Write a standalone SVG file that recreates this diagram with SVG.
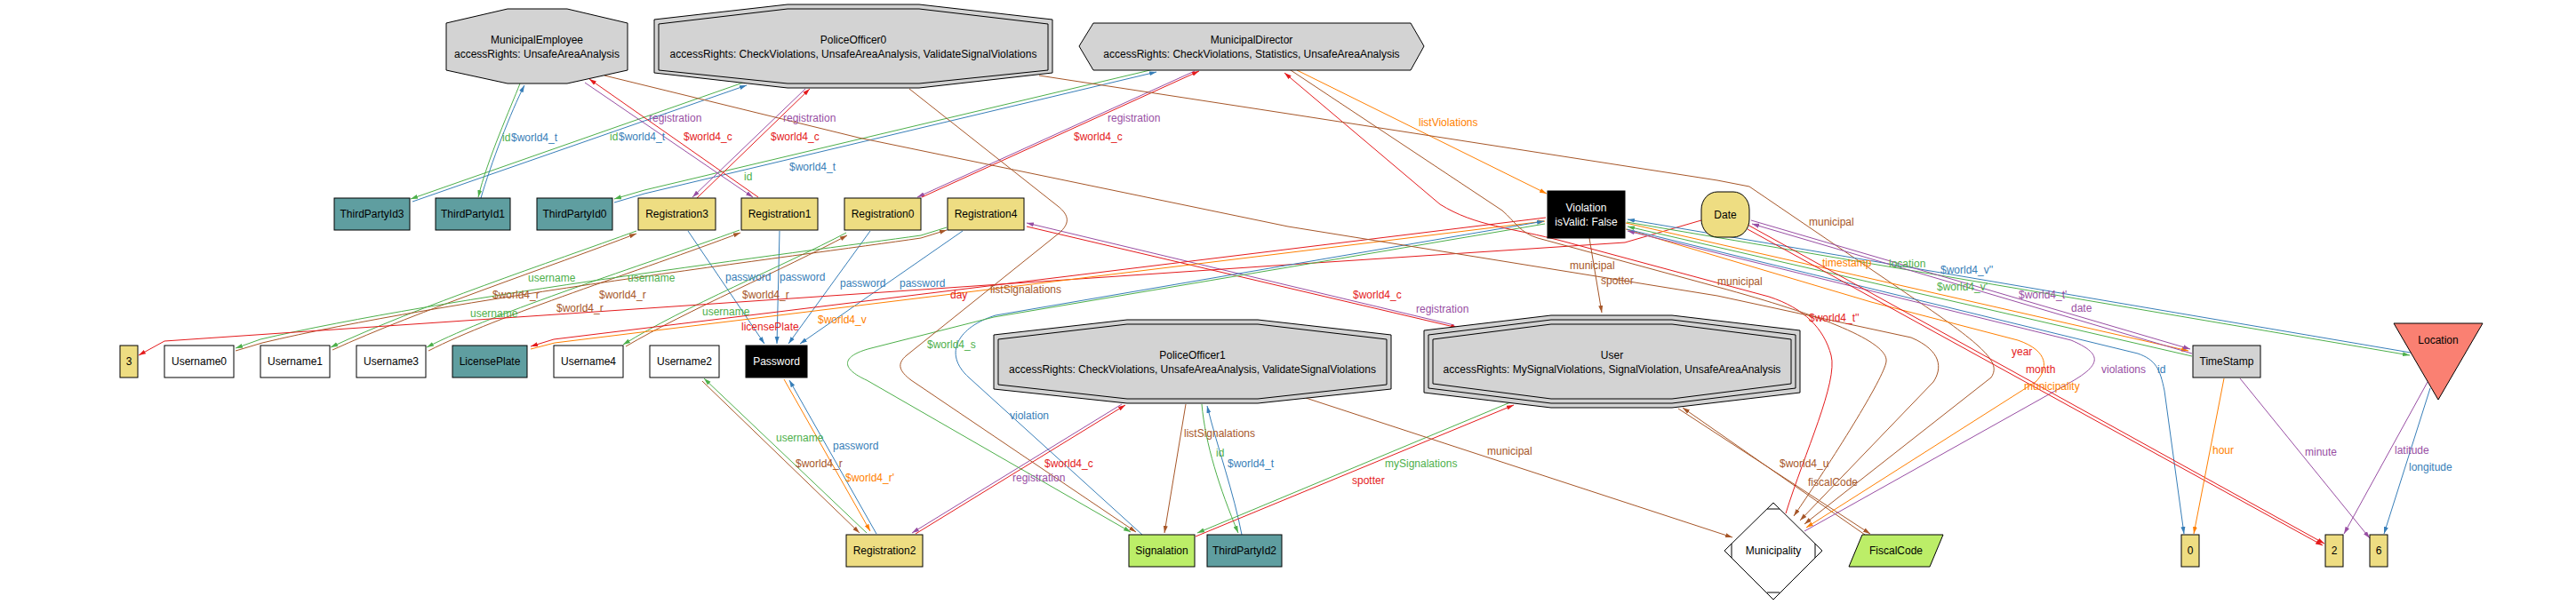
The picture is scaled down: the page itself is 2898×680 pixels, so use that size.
<svg xmlns="http://www.w3.org/2000/svg" width="2898" height="680" viewBox="0 0 2898 680">
<style>
text{font-family:"Liberation Sans",Arial,sans-serif;font-size:12px}
.n text{text-anchor:middle;fill:#000}
.n .w{fill:#fff}
.s{stroke:#000;stroke-width:1}
.tl{fill:#5F9EA0}.kh{fill:#EEDD82}.gr{fill:#D3D3D3}.lg{fill:#BCEE68}.wh{fill:#fff}.bk{fill:#000}.sa{fill:#FA8072}
.e path{fill:none;stroke-width:1}
.er{stroke:#E41A1C;marker-end:url(#mr)}
.eb{stroke:#377EB8;marker-end:url(#mb)}
.eg{stroke:#4DAF4A;marker-end:url(#mg)}
.ep{stroke:#984EA3;marker-end:url(#mp)}
.eo{stroke:#FF7F00;marker-end:url(#mo)}
.en{stroke:#A65628;marker-end:url(#mn)}
.tr{fill:#E41A1C}.tb{fill:#377EB8}.tg{fill:#4DAF4A}.tp{fill:#984EA3}.to{fill:#FF7F00}.tn{fill:#A65628}
</style>
<defs>
<marker id="mr" markerUnits="userSpaceOnUse" markerWidth="8" markerHeight="6" refX="8" refY="3" orient="auto"><path d="M0,0.5L8,3L0,5.5z" fill="#E41A1C"/></marker>
<marker id="mb" markerUnits="userSpaceOnUse" markerWidth="8" markerHeight="6" refX="8" refY="3" orient="auto"><path d="M0,0.5L8,3L0,5.5z" fill="#377EB8"/></marker>
<marker id="mg" markerUnits="userSpaceOnUse" markerWidth="8" markerHeight="6" refX="8" refY="3" orient="auto"><path d="M0,0.5L8,3L0,5.5z" fill="#4DAF4A"/></marker>
<marker id="mp" markerUnits="userSpaceOnUse" markerWidth="8" markerHeight="6" refX="8" refY="3" orient="auto"><path d="M0,0.5L8,3L0,5.5z" fill="#984EA3"/></marker>
<marker id="mo" markerUnits="userSpaceOnUse" markerWidth="8" markerHeight="6" refX="8" refY="3" orient="auto"><path d="M0,0.5L8,3L0,5.5z" fill="#FF7F00"/></marker>
<marker id="mn" markerUnits="userSpaceOnUse" markerWidth="8" markerHeight="6" refX="8" refY="3" orient="auto"><path d="M0,0.5L8,3L0,5.5z" fill="#A65628"/></marker>
</defs>
<rect width="2898" height="680" fill="#fff"/>

<g id="edges" class="e">
<path class="eg" d="M836,93L462,224"/>
<path class="eb" d="M464,227L840,96"/>
<path class="eg" d="M585,94C575,120 548,180 538,222"/>
<path class="eb" d="M541,223C552,185 575,125 590,96"/>
<path class="eg" d="M1298,78L725,214L691,224"/>
<path class="eb" d="M691,228L725,218L1301,81"/>
<path class="ep" d="M658,93L847,222"/>
<path class="er" d="M853,222L663,89"/>
<path class="ep" d="M906,100L779,222"/>
<path class="er" d="M784,223L911,100"/>
<path class="ep" d="M1344,80L1032,222"/>
<path class="er" d="M1037,222L1349,80"/>
<path class="ep" d="M1636,366L1155,251"/>
<path class="er" d="M1155,255L1640,369"/>
<path class="ep" d="M1262,455L1026,600"/>
<path class="er" d="M1030,601L1266,456"/>
<path class="eg" d="M975,600L792,426"/>
<path class="en" d="M790,429L967,600"/>
<path class="eb" d="M986,601L888,428"/>
<path class="eo" d="M882,427L979,598"/>
<path class="eb" d="M774,260L860,387"/>
<path class="eb" d="M877,260L874,387"/>
<path class="eb" d="M979,260L887,387"/>
<path class="eb" d="M1083,260L900,387"/>
<path class="eg" d="M716,260C620,295 470,345 372,391"/>
<path class="en" d="M374,394C470,350 620,300 716,263"/>
<path class="eg" d="M832,259C720,300 560,350 480,391"/>
<path class="en" d="M482,395C560,355 720,305 833,262"/>
<path class="eg" d="M952,262C880,300 770,345 701,388"/>
<path class="en" d="M704,390C772,350 882,303 953,265"/>
<path class="eg" d="M1065,256L1036,265C900,284 500,334 293,382L265,392"/>
<path class="en" d="M265,395L295,386C500,337 900,288 1036,268L1065,259"/>
<path class="er" d="M1914,248L1828,273L1449,298L185,384L156,400"/>
<path class="er" d="M1739,245L623,382L597,390"/>
<path class="eo" d="M597,393L624,386L1738,249"/>
<path class="eb" d="M1285,602L1090,425C1060,398 1078,368 1120,355L1737,249"/>
<path class="eg" d="M1738,252L1118,357L980,392C945,401 946,415 975,428L1272,599"/>
<path class="en" d="M1023,100L1190,232C1204,243 1203,252 1192,262L1020,400C1008,410 1012,418 1025,428L1278,599"/>
<path class="en" d="M1334,455L1310,600"/>
<path class="eg" d="M1352,455C1356,500 1372,550 1393,600"/>
<path class="eb" d="M1397,602C1388,555 1370,505 1358,457"/>
<path class="eg" d="M1699,453L1347,600"/>
<path class="er" d="M1345,604L1703,456"/>
<path class="en" d="M1469,448L1949,605"/>
<path class="en" d="M1888,460L2104,601"/>
<path class="en" d="M2098,602L1893,459"/>
<path class="en" d="M1788,268L1802,352"/>
<path class="eo" d="M1459,79L1740,218"/>
<path class="er" d="M2009,578C2030,510 2068,430 2060,400C2052,370 2030,347 1990,334L1760,272C1700,256 1660,255 1620,230L1445,82"/>
<path class="en" d="M1449,77L1690,237C1705,250 1710,262 1730,268L1932,323C2050,355 2125,385 2122,407C2120,425 2060,520 2018,581"/>
<path class="en" d="M680,85L966,155L1449,255L1932,333L2150,380C2185,395 2185,415 2175,430L2025,586"/>
<path class="en" d="M1169,85L1449,128L1932,203L1968,210L2159,340C2240,395 2250,410 2240,425L2030,590"/>
<path class="eo" d="M1829,258L2105,340L2270,383C2305,395 2305,415 2290,430L2032,594"/>
<path class="ep" d="M2030,598L2330,430C2365,410 2365,398 2330,383L1831,260"/>
<path class="eo" d="M1829,251L2462,395"/>
<path class="eg" d="M2466,401L1831,255"/>
<path class="eg" d="M1830,250L2711,400"/>
<path class="eb" d="M2712,397L1831,247"/>
<path class="ep" d="M2466,398L1971,252"/>
<path class="ep" d="M1970,248L2464,393"/>
<path class="eb" d="M1830,258L2405,398C2425,405 2430,415 2435,440L2457,601"/>
<path class="er" d="M1966,253L2615,612"/>
<path class="er" d="M1966,258L2613,614"/>
<path class="eo" d="M2502,426L2468,601"/>
<path class="ep" d="M2520,426L2666,606"/>
<path class="ep" d="M2731,430L2637,601"/>
<path class="eb" d="M2734,437L2682,601"/>
</g>

<g id="labels">
<text class="tg" x="686" y="158">id</text><text class="tb" x="696" y="158">$world4_t</text>
<text class="tg" x="565" y="159">id</text><text class="tb" x="575" y="159">$world4_t</text>
<text class="tp" x="730" y="137">registration</text><text class="tr" x="769" y="158">$world4_c</text>
<text class="tp" x="881" y="137">registration</text><text class="tr" x="867" y="158">$world4_c</text>
<text class="tg" x="837" y="203">id</text><text class="tb" x="888" y="192">$world4_t</text>
<text class="tp" x="1246" y="137">registration</text><text class="tr" x="1208" y="158">$world4_c</text>
<text class="to" x="1596" y="142">listViolations</text>
<text class="tg" x="594" y="317">username</text><text class="tn" x="554" y="336">$world4_r</text>
<text class="tg" x="706" y="317">username</text><text class="tn" x="674" y="336">$world4_r</text>
<text class="tb" x="816" y="316">password</text><text class="tb" x="877" y="316">password</text>
<text class="tb" x="945" y="323">password</text><text class="tb" x="1012" y="323">password</text>
<text class="tn" x="835" y="336">$world4_r</text>
<text class="tg" x="529" y="357">username</text><text class="tn" x="626" y="351">$world4_r</text>
<text class="tg" x="790" y="355">username</text>
<text class="tr" x="834" y="372">licensePlate</text><text class="to" x="920" y="364">$world4_v</text>
<text class="tr" x="1069" y="336">day</text>
<text class="tn" x="1114" y="330">listSignalations</text>
<text class="tg" x="1043" y="392">$world4_s</text>
<text class="tr" x="1522" y="336">$world4_c</text><text class="tp" x="1593" y="352">registration</text>
<text class="tn" x="1766" y="303">municipal</text><text class="tn" x="1801" y="320">spotter</text>
<text class="tn" x="2035" y="254">municipal</text>
<text class="tn" x="1932" y="321">municipal</text>
<text class="to" x="2050" y="300">timestamp</text><text class="tg" x="2125" y="301">location</text>
<text class="tb" x="2183" y="308">$world4_v''</text><text class="tg" x="2179" y="327">$world4_v'</text>
<text class="tp" x="2271" y="336">$world4_t'</text><text class="tp" x="2330" y="351">date</text>
<text class="tr" x="2035" y="362">$world4_t''</text>
<text class="tr" x="2263" y="400">year</text><text class="tr" x="2279" y="420">month</text>
<text class="to" x="2277" y="439">municipality</text><text class="tp" x="2364" y="420">violations</text>
<text class="tb" x="2427" y="420">id</text>
<text class="tb" x="1136" y="472">violation</text>
<text class="tg" x="873" y="497">username</text><text class="tb" x="937" y="506">password</text>
<text class="tn" x="895" y="526">$world4_r</text><text class="to" x="951" y="542">$world4_r'</text>
<text class="tr" x="1175" y="526">$world4_c</text><text class="tp" x="1139" y="542">registration</text>
<text class="tn" x="1332" y="492">listSignalations</text>
<text class="tg" x="1368" y="514">id</text><text class="tb" x="1381" y="526">$world4_t</text>
<text class="tg" x="1558" y="526">mySignalations</text><text class="tr" x="1521" y="545">spotter</text>
<text class="tn" x="1673" y="512">municipal</text>
<text class="tn" x="2002" y="526">$world4_u</text><text class="tn" x="2034" y="547">fiscalCode</text>
<text class="to" x="2489" y="511">hour</text><text class="tp" x="2593" y="513">minute</text>
<text class="tp" x="2694" y="511">latitude</text><text class="tb" x="2710" y="530">longitude</text>
</g>

<g id="nodes">
<g id="MunicipalEmployee" class="n"><polygon class="s gr" points="502,26 571,10 638,10 706,26 706,79 638,94 571,94 502,79"/><text x="604" y="49">MunicipalEmployee</text><text x="604" y="65">accessRights: UnsafeAreaAnalysis</text></g>
<g id="PoliceOfficer0" class="n"><polygon class="s gr" points="736,22 886,5 1034,5 1184,22 1184,82 1034,99 886,99 736,82"/><polygon class="s" fill="none" points="741,27 886,10 1034,10 1179,27 1179,79 1034,94 886,94 741,79"/><text x="960" y="49">PoliceOfficer0</text><text x="960" y="65">accessRights: CheckViolations, UnsafeAreaAnalysis, ValidateSignalViolations</text></g>
<g id="MunicipalDirector" class="n"><polygon class="s gr" points="1214,52 1230,26 1587,26 1602,52 1587,79 1230,79"/><text x="1408" y="49">MunicipalDirector</text><text x="1408" y="65">accessRights: CheckViolations, Statistics, UnsafeAreaAnalysis</text></g>
<g id="ThirdPartyId3" class="n"><rect class="s tl" x="376" y="223" width="85" height="36"/><text x="418.5" y="245">ThirdPartyId3</text></g>
<g id="ThirdPartyId1" class="n"><rect class="s tl" x="490" y="223" width="84" height="36"/><text x="532" y="245">ThirdPartyId1</text></g>
<g id="ThirdPartyId0" class="n"><rect class="s tl" x="604" y="223" width="85" height="36"/><text x="646.5" y="245">ThirdPartyId0</text></g>
<g id="Registration3" class="n"><rect class="s kh" x="718" y="223" width="87" height="36"/><text x="761.5" y="245">Registration3</text></g>
<g id="Registration1" class="n"><rect class="s kh" x="834" y="223" width="86" height="36"/><text x="877" y="245">Registration1</text></g>
<g id="Registration0" class="n"><rect class="s kh" x="950" y="223" width="86" height="36"/><text x="993" y="245">Registration0</text></g>
<g id="Registration4" class="n"><rect class="s kh" x="1066" y="223" width="86" height="36"/><text x="1109" y="245">Registration4</text></g>
<g id="Violation" class="n"><rect class="s bk" x="1741" y="215" width="87" height="53"/><text class="w" x="1784.5" y="238">Violation</text><text class="w" x="1784.5" y="254">isValid: False</text></g>
<g id="Date" class="n"><rect class="s kh" x="1914" y="216" width="54" height="51" rx="18" ry="20"/><text x="1941" y="246">Date</text></g>
<g id="TimeStamp" class="n"><rect class="s gr" x="2467" y="389" width="76" height="36"/><text x="2505" y="411">TimeStamp</text></g>
<g id="Location" class="n"><polygon class="s sa" points="2693,364 2793,364 2743,450"/><text x="2743" y="387">Location</text></g>
<g id="n3" class="n"><rect class="s kh" x="135" y="389" width="20" height="36"/><text x="145" y="411">3</text></g>
<g id="Username0" class="n"><rect class="s wh" x="185" y="389" width="78" height="36"/><text x="224" y="411">Username0</text></g>
<g id="Username1" class="n"><rect class="s wh" x="293" y="389" width="78" height="36"/><text x="332" y="411">Username1</text></g>
<g id="Username3" class="n"><rect class="s wh" x="401" y="389" width="78" height="36"/><text x="440" y="411">Username3</text></g>
<g id="LicensePlate" class="n"><rect class="s tl" x="509" y="389" width="84" height="36"/><text x="551" y="411">LicensePlate</text></g>
<g id="Username4" class="n"><rect class="s wh" x="623" y="389" width="78" height="36"/><text x="662" y="411">Username4</text></g>
<g id="Username2" class="n"><rect class="s wh" x="731" y="389" width="78" height="36"/><text x="770" y="411">Username2</text></g>
<g id="Password" class="n"><rect class="s bk" x="839" y="389" width="69" height="36"/><text class="w" x="873.5" y="411">Password</text></g>
<g id="PoliceOfficer1" class="n"><polygon class="s gr" points="1118,377 1268,360 1415,360 1565,377 1565,438 1415,454 1268,454 1118,438"/><polygon class="s" fill="none" points="1123,382 1268,365 1415,365 1560,382 1560,433 1415,449 1268,449 1123,433"/><text x="1341.5" y="404">PoliceOfficer1</text><text x="1341.5" y="420">accessRights: CheckViolations, UnsafeAreaAnalysis, ValidateSignalViolations</text></g>
<g id="User" class="n"><polygon class="s gr" points="1602,372 1745,355 1881,355 2025,372 2025,442 1881,459 1745,459 1602,442"/><polygon class="s" fill="none" points="1607,377 1745,360 1881,360 2020,377 2020,437 1881,454 1745,454 1607,437"/><polygon class="s" fill="none" points="1612,382 1745,365 1881,365 2015,382 2015,432 1881,449 1745,449 1612,432"/><text x="1813.5" y="404">User</text><text x="1813.5" y="420">accessRights: MySignalViolations, SignalViolation, UnsafeAreaAnalysis</text></g>
<g id="Registration2" class="n"><rect class="s kh" x="952" y="602" width="86" height="36"/><text x="995" y="624">Registration2</text></g>
<g id="Signalation" class="n"><rect class="s lg" x="1270" y="602" width="74" height="36"/><text x="1307" y="624">Signalation</text></g>
<g id="ThirdPartyId2" class="n"><rect class="s tl" x="1358" y="602" width="84" height="36"/><text x="1400" y="624">ThirdPartyId2</text></g>
<g id="Municipality" class="n"><polygon class="s wh" points="1995,566 2050,620 1995,675 1940,620"/><path class="s" fill="none" d="M1988,573H2002M1948,612V628M2042,612V628M1988,667H2002"/><text x="1995" y="624">Municipality</text></g>
<g id="FiscalCode" class="n"><polygon class="s lg" points="2095,602 2186,602 2171,638 2080,638"/><text x="2133" y="624">FiscalCode</text></g>
<g id="n0" class="n"><rect class="s kh" x="2454" y="602" width="20" height="36"/><text x="2464" y="624">0</text></g>
<g id="n2" class="n"><rect class="s kh" x="2616" y="602" width="20" height="36"/><text x="2626" y="624">2</text></g>
<g id="n6" class="n"><rect class="s kh" x="2666" y="602" width="20" height="36"/><text x="2676" y="624">6</text></g>
</g>
</svg>
